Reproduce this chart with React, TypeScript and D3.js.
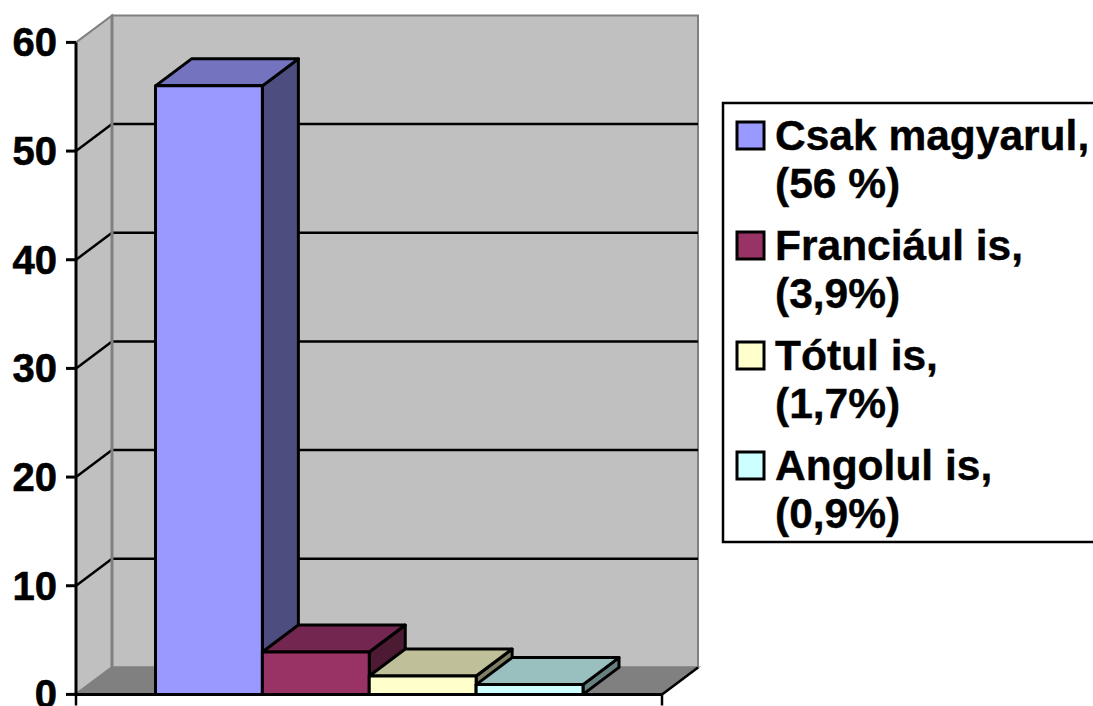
import React from "react";
import * as d3 from "d3";

const names = ["Csak magyarul,", "Franciául is,", "Tótul is,", "Angolul is,"];
const shares = ["(56 %)", "(3,9%)", "(1,7%)", "(0,9%)"];
const values = [56, 3.9, 1.7, 0.9];
const fronts = ["#9999ff", "#993366", "#ffffcc", "#ccffff"];
const tops = ["#7373bf", "#732650", "#bfbf99", "#99bfbf"];
const sides = ["#4d4d80", "#4d1a33", "#808066", "#668080"];
const ticks = [0, 10, 20, 30, 40, 50, 60];

const W = 1093, H = 706;
const DX = 36, DY = 27;
const y = d3.scaleLinear().domain([0, 60]).range([694.4, 42.4]);
const x = d3.scaleBand<number>().domain(d3.range(values.length)).range([155.5, 583]);
const xL = 76, xR = 662;
const FF = "'Liberation Sans', Arial, sans-serif";
const poly = (p: [number, number][]) => d3.line()(p) + "Z";

export default function App() {
  return (
    <svg width={W} height={H} style={{ position: "absolute", left: 0, top: 0, background: "#fff" }}>
      {/* walls */}
      <path d={poly([[xL + DX, y(60) - DY], [xR + DX, y(60) - DY], [xR + DX, y(0) - DY], [xL + DX, y(0) - DY]])} fill="#c0c0c0" stroke="#808080" strokeWidth={2} />
      <path d={poly([[xL, y(60)], [xL + DX, y(60) - DY], [xL + DX, y(0) - DY], [xL, y(0)]])} fill="#c0c0c0" stroke="#808080" strokeWidth={2} />
      <path d={poly([[xL, y(0)], [xL + DX, y(0) - DY], [xR + DX, y(0) - DY], [xR, y(0)]])} fill="#808080" stroke="#808080" strokeWidth={2} />
      {/* gridlines */}
      {ticks.filter(t => t > 0 && t < 60).map(t => (
        <g key={t}>
          <line x1={xL} y1={y(t)} x2={xL + DX} y2={y(t) - DY} stroke="#000" strokeWidth={2.5} />
          <line x1={xL + DX} y1={y(t) - DY} x2={xR + DX} y2={y(t) - DY} stroke="#000" strokeWidth={2.5} />
        </g>
      ))}
      <path d={`M${xL + DX},${y(60) - DY}V${y(0) - DY}`} stroke="#808080" strokeWidth={3} fill="none" />
      <path d={`M${xL},${y(0)}L${xL + DX},${y(0) - DY}`} stroke="#808080" strokeWidth={2} fill="none" />
      <path d={`M${xR},${y(0)}L${xR + DX},${y(0) - DY}`} stroke="#000" strokeWidth={2.5} fill="none" />
      {/* bars */}
      {values.map((v, i) => {
        const x0 = x(i)!, x1 = x0 + x.bandwidth(), yt = y(v), yb = y(0);
        return (
          <g key={i} stroke="#000" strokeWidth={3} strokeLinejoin="round">
            <path d={poly([[x1, yb], [x1 + DX, yb - DY], [x1 + DX, yt - DY], [x1, yt]])} fill={sides[i]} />
            <path d={poly([[x0, yt], [x0 + DX, yt - DY], [x1 + DX, yt - DY], [x1, yt]])} fill={tops[i]} />
            <rect x={x0} y={yt} width={x1 - x0} height={yb - yt} fill={fronts[i]} />
          </g>
        );
      })}
      {/* axes */}
      <path d={`M${xL},${y(60)}V${y(0)}H${xR}`} fill="none" stroke="#000" strokeWidth={3} />
      <path d={`M${xL},${y(0)}v11M${xR},${y(0)}v11`} fill="none" stroke="#000" strokeWidth={2.5} />
      {ticks.map(t => (
        <g key={t}>
          <line x1={xL - 10} x2={xL} y1={y(t)} y2={y(t)} stroke="#000" strokeWidth={3} />
          <text x={57} y={y(t) + 14} textAnchor="end" fontFamily={FF} fontWeight="bold" fontSize={40} fill="#000" stroke="#000" strokeWidth={0.6}>{t}</text>
        </g>
      ))}
      {/* legend */}
      <rect x={723} y={103} width={W} height={439} fill="#fff" stroke="#000" strokeWidth={2.5} />
      {names.map((n, i) => {
        const top = 122 + i * 110;
        return (
          <g key={n}>
            <rect x={737} y={top} width={27} height={27} fill={fronts[i]} stroke="#000" strokeWidth={3} />
            <text x={775} y={top + 28} fontFamily={FF} fontWeight="bold" fontSize={42.5} fill="#000" stroke="#000" strokeWidth={0.4}>{n}</text>
            <text x={775} y={top + 76} fontFamily={FF} fontWeight="bold" fontSize={42.5} fill="#000" stroke="#000" strokeWidth={0.4}>{shares[i]}</text>
          </g>
        );
      })}
    </svg>
  );
}
